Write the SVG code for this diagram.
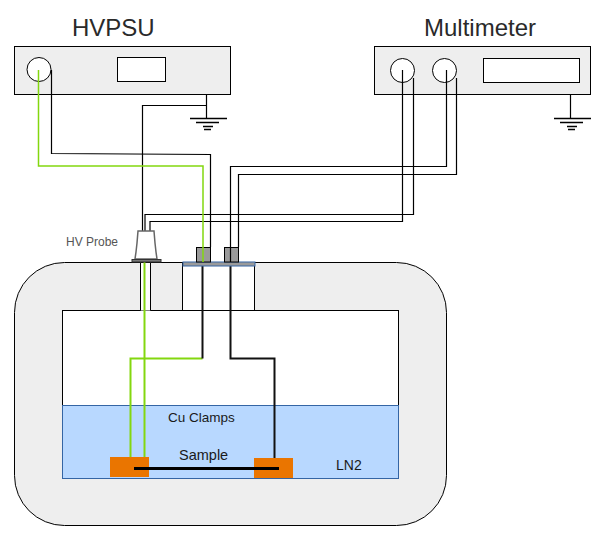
<svg xmlns="http://www.w3.org/2000/svg" width="605" height="545" viewBox="0 0 605 545">
<style>
text{font-family:"Liberation Sans",Arial,sans-serif;fill:#1a1a1a}
.box{fill:#eeeeee;stroke:#000;stroke-width:1}
.w{fill:#fff;stroke:#000;stroke-width:1}
.blk{fill:none;stroke:#000;stroke-width:1.2}
.bk2{fill:none;stroke:#111;stroke-width:2}
.grn{fill:none;stroke:#83d70f;stroke-width:1.500}
.gnd{fill:none;stroke:#000;stroke-width:1.500}
</style>
<rect width="605" height="545" fill="#fff"/>
<g id="cryostat">
<rect x="14.500" y="262.500" width="432" height="263" rx="50" ry="50" class="box"/>
<rect x="62.500" y="310.500" width="336" height="168" class="w"/>
<rect x="62.500" y="405.500" width="336" height="73" fill="#b8d8ff" stroke="#3465a4" stroke-width="1"/>
<path d="M140.500 310.500V262.500H150.500V310.500" class="w"/>
<rect x="182.500" y="262.500" width="72" height="48" class="w"/>
<text x="336" y="470" font-size="14">LN2</text>
</g>
<g id="hvpsu">
<text x="72" y="36" font-size="24" style="fill:#2a2a2a">HVPSU</text>
<rect x="14.500" y="46.500" width="216" height="48" class="box"/>
<circle cx="39" cy="69.500" r="12" class="w"/>
<rect x="117.500" y="57.500" width="48" height="24" class="w"/>
<path d="M190 118.500H227M196 122.500H219M203 126.500H213M204 129.500H211" class="gnd"/>
</g>
<g id="multimeter">
<text x="424" y="36" font-size="24" style="fill:#2a2a2a">Multimeter</text>
<rect x="374.500" y="46.500" width="216" height="48" class="box"/>
<circle cx="402.500" cy="70.500" r="12" class="w"/>
<circle cx="444.500" cy="70.500" r="12" class="w"/>
<rect x="483.500" y="58.500" width="96" height="24" class="w"/>
<path d="M554 118.500H591M560 122.500H583M567 126.500H577M568 129.500H575" class="gnd"/>
</g>
<g id="connectors">
<path d="M206.500 94.500V118.500M206.500 105.500H142.500V231M570.500 94.500V118.500" class="blk"/>
<path d="M51.500 70V153.500L210.500 154.500V247" class="blk"/>
<path d="M402.500 70V221.500H150V231M413.500 78V214.500H145V231" class="blk"/>
<path d="M446.500 70V166.500H230.500V247M456.500 78V174.500H238.500V247" class="blk"/>
<path d="M38.500 70V166H203V262" class="grn"/>
<path d="M144.500 262V457" fill="none" stroke="#83d70f" stroke-width="2"/>
<path d="M202.500 358.500H130.500V457" fill="none" stroke="#83d70f" stroke-width="2"/>
<path d="M202.500 266V358.500" class="bk2"/>
<path d="M230.500 266V358.500H274.500V458" class="bk2"/>
</g>
<g id="probe">
<path d="M138 231H154L155 243L156 252L157 259H135L136 252L137 243Z" fill="#fff" stroke="#666" stroke-width="1.500"/>
<rect x="132" y="259.500" width="29" height="2.500" fill="#777" stroke="#333" stroke-width="1"/>
<text x="66" y="246" font-size="12" style="fill:#555">HV Probe</text>
</g>
<g id="feedthrough">
<rect x="183" y="262" width="72" height="4" fill="#9a9a9a" stroke="#3465a4" stroke-width="1"/>
<rect x="196.500" y="247.500" width="14" height="14.500" fill="#9a9a9a" stroke="#000" stroke-width="1"/>
<rect x="224.500" y="247.500" width="14" height="14.500" fill="#9a9a9a" stroke="#000" stroke-width="1"/>
<path d="M203 247V262" class="grn"/>
<path d="M230.500 247V262" class="blk"/>
</g>
<g id="sample">
<rect x="110" y="457" width="39" height="20" fill="#ea7500"/>
<rect x="254" y="458" width="39" height="20" fill="#ea7500"/>
<path d="M134 468.500H279" stroke="#000" stroke-width="3"/>
<text x="168" y="422" font-size="13.500">Cu Clamps</text>
<text x="179" y="460" font-size="14.500">Sample</text>
</g>
</svg>
